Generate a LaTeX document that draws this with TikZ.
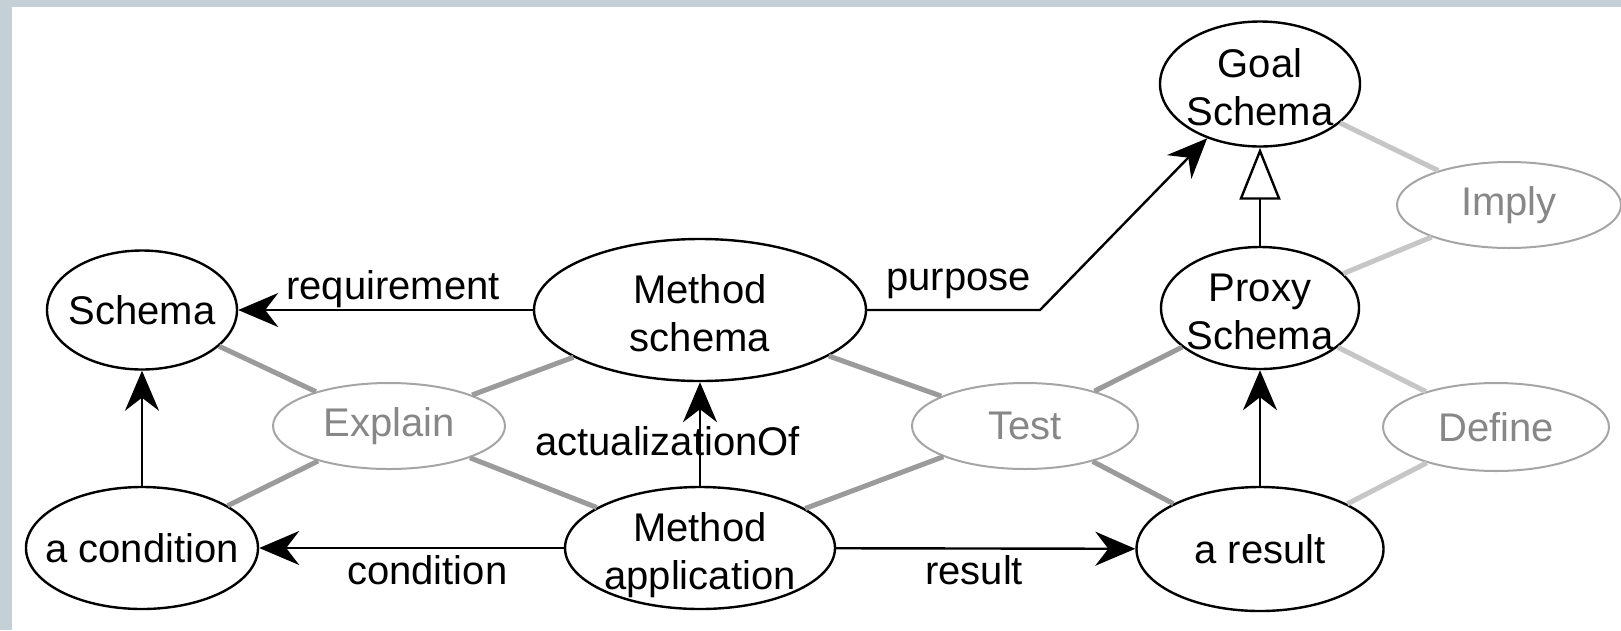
\documentclass[tikz,border=0pt]{standalone}
\usepackage{fontspec}
\setmainfont{Liberation Sans}
\usetikzlibrary{shapes.geometric,arrows.meta}
\definecolor{bgtex}{RGB}{196,207,214}
\definecolor{edgeA}{RGB}{155,155,155}
\definecolor{edgeB}{RGB}{198,198,198}
\definecolor{ghost}{RGB}{165,165,165}
\definecolor{ghosttext}{RGB}{135,135,135}
\newcommand{\topstrut}{\rule{0pt}{44pt}}
\newcommand{\botstrut}{\rule[-9pt]{0pt}{9pt}}
\begin{document}
\begin{tikzpicture}[x=1pt,y=-1pt,
  every node/.style={font=\fontsize{40}{48.5}\selectfont},
  ent/.style={ellipse, draw=black, line width=2.4pt, inner sep=-40pt, align=center},
  role/.style={ellipse, draw=ghost, line width=2pt, inner sep=-40pt, text=ghosttext},
  rel/.style={draw=black, line width=2.4pt, -{Stealth[length=40pt,width=34pt,inset=13pt]}},
  gen/.style={draw=black, line width=2.4pt, -{Triangle[open,length=52pt,width=41pt]}},
  linkA/.style={draw=edgeA, line width=5pt},
  linkB/.style={draw=edgeB, line width=5pt},
  lab/.style={anchor=base west, inner sep=0pt}
]
\useasboundingbox (0,0) rectangle (1621,630);
\fill[bgtex] (0,0) rectangle (1621,630);
\fill[white] (12,7) rectangle (1621,630);

% entity nodes
\node[ent, minimum width=200pt, minimum height=125pt] (goal) at (1260,84) {\topstrut Goal\\Schema\botstrut};
\node[ent, minimum width=190pt, minimum height=119pt] (schema) at (142,310) {Schema};
\node[ent, minimum width=332pt, minimum height=142pt] (msch) at (700,310) {\topstrut Method\\schema\botstrut};
\node[ent, minimum width=198pt, minimum height=122pt] (proxy) at (1260,308) {\topstrut Proxy\\Schema\botstrut};
\node[ent, minimum width=232pt, minimum height=122pt] (cond) at (142,548) {a condition};
\node[ent, minimum width=270pt, minimum height=122pt] (mapp) at (700,548) {\topstrut Method\\application\botstrut};
\node[ent, minimum width=247pt, minimum height=124pt] (res) at (1260,549) {a result};

% role nodes
\node[role, minimum width=224pt, minimum height=86pt] (imply) at (1509,205) {Imply};
\node[role, minimum width=232pt, minimum height=86pt] (explain) at (389,426) {Explain};
\node[role, minimum width=226pt, minimum height=86pt] (test) at (1025,426) {Test};
\node[role, minimum width=226pt, minimum height=88pt] (define) at (1496,427) {Define};

% grey links
\draw[linkA] (schema) -- (explain);
\draw[linkA] (explain) -- (msch);
\draw[linkA] (explain) -- (cond);
\draw[linkA] (explain) -- (mapp);
\draw[linkA] (msch) -- (test);
\draw[linkA] (test) -- (mapp);
\draw[linkA] (test) -- (proxy);
\draw[linkA] (test) -- (res);
\draw[linkB] (goal) -- (imply);
\draw[linkB] (imply) -- (proxy);
\draw[linkB] (proxy) -- (define);
\draw[linkB] (define) -- (res);

% labels
\node[lab] (lreq) at (286,299) {requirement};
\node[lab] (lpur) at (886,290) {purpose};
\node[lab] (lact) at (535,455) {actualizationOf};
\node[lab] (lcond) at (347,584) {condition};
\node[lab] (lres) at (925,584) {result};

% relations
\coordinate (bend) at (1040,310);
\draw[rel] (msch) -- (schema);
\draw[rel] (msch.east) -- (bend) -- (goal);
\draw[rel] (mapp) -- (msch);
\draw[rel] (mapp) -- (cond);
\draw[rel] (mapp) -- (res);
\draw[rel] (cond) -- (schema);
\draw[rel] (res) -- (proxy);
\draw[gen] (proxy) -- (goal);
\end{tikzpicture}
\end{document}
